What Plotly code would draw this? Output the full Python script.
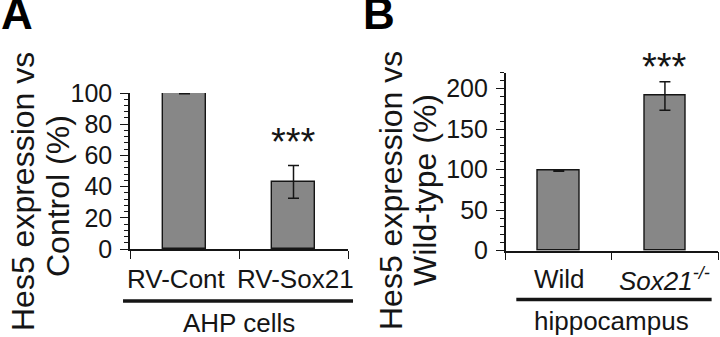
import plotly.graph_objects as go

# ---- data ----
a_categories = ["RV-Cont", "RV-Sox21"]
a_values = [100, 43]
a_errors = [0.5, 10.5]
a_sig = ["", "***"]
a_group = "AHP cells"
a_ytitle = ["Hes5 expression vs", "Control (%)"]
a_yticks = [0, 20, 40, 60, 80, 100]

b_categories = ["Wild", "<i>Sox21<sup>-/-</sup></i>"]
b_values = [99, 191]
b_errors = [0.8, 17.5]
b_sig = ["", "***"]
b_group = "hippocampus"
b_ytitle = ["Hes5 expression vs", "Wild-type (%)"]
b_yticks = [0, 50, 100, 150, 200]

FONT = "Liberation Sans, Arial, Helvetica, sans-serif"
INK = "#151515"
BAR = "#878787"
W, H = 720, 337

fig = go.Figure()

def add_panel(idx, cats, vals, errs):
    sfx = "" if idx == 1 else str(idx)
    fig.add_trace(go.Bar(
        x=cats, y=vals, width=0.39,
        marker=dict(color=BAR, line=dict(color=INK, width=1.4)),
        error_y=dict(type="data", array=errs, visible=True, color=INK,
                     thickness=1.5, width=5.5),
        xaxis="x" + sfx, yaxis="y" + sfx, showlegend=False,
    ))

add_panel(1, a_categories, a_values, a_errors)
add_panel(2, b_categories, b_values, b_errors)

axis_common = dict(showline=True, linecolor=INK, linewidth=1.5, showgrid=False,
                   zeroline=False, ticks="outside", tickcolor=INK, tickwidth=1.3,
                   automargin=False)

def xaxis(domain, anchor):
    return dict(axis_common, domain=domain, anchor=anchor, type="category",
                range=[-0.5, 1.5], tickson="boundaries", ticklen=8,
                showticklabels=False)

def yaxis(domain, anchor, rng, tickvals, minor_dt):
    return dict(axis_common, domain=domain, anchor=anchor, range=rng,
                tickvals=tickvals, ticklen=8, ticklabelstandoff=3,
                tickfont=dict(family=FONT, size=25, color=INK),
                minor=dict(dtick=minor_dt, ticks="outside", ticklen=4,
                           tickcolor=INK, tickwidth=1, showgrid=False))

def px_x(p):
    return p / W

def px_y(p):
    return (H - p) / H

fig.update_layout(
    template="none",
    width=W, height=H, margin=dict(l=0, r=0, t=0, b=0, pad=0, autoexpand=False),
    paper_bgcolor="white", plot_bgcolor="white",
    font=dict(family=FONT, color=INK),
    bargap=0,
    xaxis=xaxis([px_x(130), px_x(348)], "y"),
    yaxis=yaxis([px_y(249), px_y(93)], "x", [0, 100], a_yticks, 4),
    xaxis2=xaxis([px_x(505.7), px_x(718)], "y2"),
    yaxis2=yaxis([px_y(250.7), px_y(72.5)], "x2", [0, 220], b_yticks, 10),
)

C = dict(xanchor="center", yanchor="middle", showarrow=False)
ann = []
# panel letters
ann.append(dict(C, text="<b>A</b>", x=px_x(17), y=px_y(13), xref="paper", yref="paper",
                font=dict(size=44, family=FONT, color="black")))
ann.append(dict(C, text="<b>B</b>", x=px_x(379), y=px_y(13), xref="paper", yref="paper",
                font=dict(size=44, family=FONT, color="black")))
# y titles
for txt, xc, yc in [(a_ytitle[0], 23, 192), (a_ytitle[1], 58, 196),
                    (b_ytitle[0], 391, 190), (b_ytitle[1], 425, 190)]:
    ann.append(dict(C, text=txt, x=px_x(xc), y=px_y(yc), xref="paper", yref="paper",
                    textangle=-90, font=dict(size=32, family=FONT, color=INK)))
# category labels
for sfx, cats, shifts in [("", a_categories, [-8, 2]), ("2", b_categories, [1, 0])]:
    for c, s in zip(cats, shifts):
        ann.append(dict(C, text=c, x=c, xref="x" + sfx, y=px_y(279), yref="paper",
                        xshift=s, font=dict(size=26, family=FONT, color=INK)))
# group labels
ann.append(dict(C, text=a_group, x=0.5, xref="x domain", y=px_y(323), yref="paper",
                font=dict(size=26, family=FONT, color=INK)))
ann.append(dict(C, text=b_group, x=0.5, xref="x2 domain", y=px_y(321), yref="paper",
                font=dict(size=26, family=FONT, color=INK)))
# significance stars
for sfx, cats, vals, errs, sig, ys in [("", a_categories, a_values, a_errors, a_sig, 1),
                                       ("2", b_categories, b_values, b_errors, b_sig, -8)]:
    for c, v, e, s in zip(cats, vals, errs, sig):
        if s:
            ann.append(dict(text=s, x=c, xref="x" + sfx, y=v + e, yref="y" + sfx,
                            xanchor="center", yanchor="bottom", yshift=ys,
                            showarrow=False,
                            font=dict(size=38, family=FONT, color=INK)))
fig.update_layout(annotations=ann)

# group underline bars
fig.add_shape(type="line", xref="x domain", yref="paper", x0=-0.032, x1=1.023,
              y0=px_y(301), y1=px_y(301), line=dict(color=INK, width=3.5))
fig.add_shape(type="line", xref="x2 domain", yref="paper", x0=0.05, x1=0.97,
              y0=px_y(299.5), y1=px_y(299.5), line=dict(color=INK, width=3.5))

fig.write_html("out.html", config={"displayModeBar": False},
               post_script="document.body.style.margin='0';document.body.style.overflow='hidden';")
